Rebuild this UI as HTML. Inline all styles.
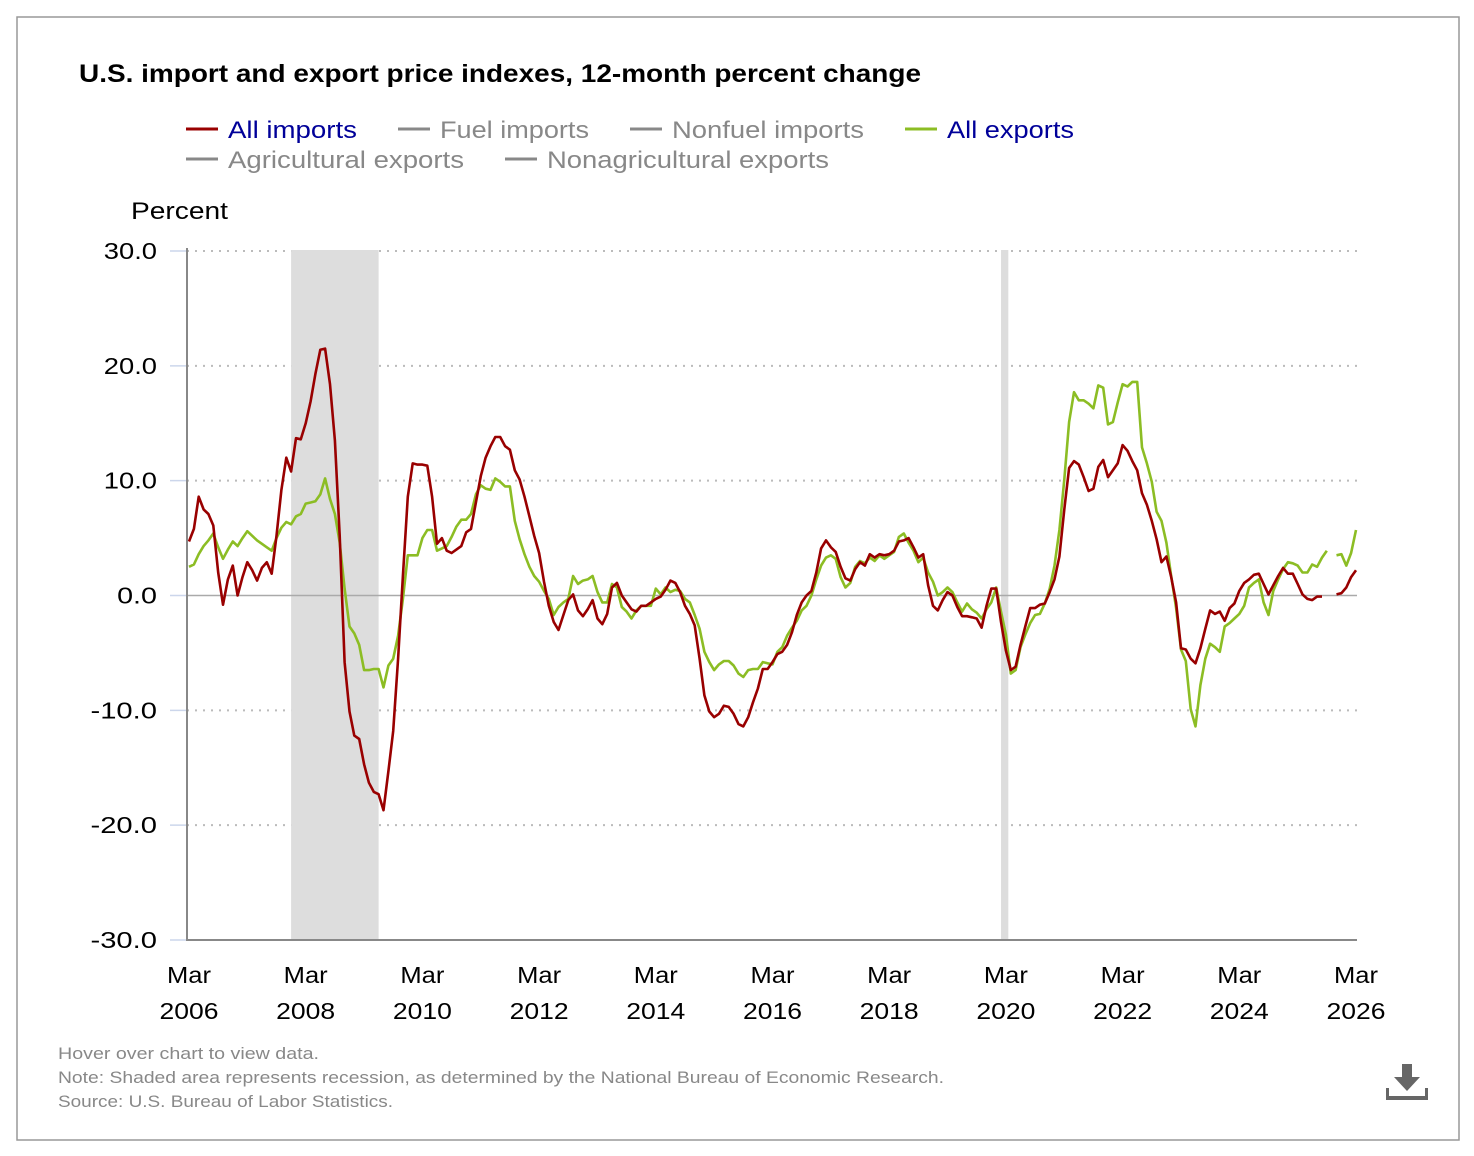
<!DOCTYPE html>
<html><head><meta charset="utf-8"><style>
html,body{margin:0;padding:0;background:#fff;width:1474px;height:1156px;overflow:hidden}
svg{display:block;font-family:"Liberation Sans",sans-serif}
</style></head><body>
<svg id="chart" width="1474" height="1156" viewBox="0 0 1474 1156">
<rect x="17" y="17" width="1442" height="1123" fill="#fff" stroke="#999" stroke-width="1.5"/>
<text x="79" y="82" font-size="25" font-weight="bold" fill="#000" textLength="842" lengthAdjust="spacingAndGlyphs">U.S. import and export price indexes, 12-month percent change</text>
<g font-size="24">
<g><line x1="186" y1="129" x2="218" y2="129" stroke="#990000" stroke-width="3"/><text x="228" y="138" fill="#000099" textLength="129" lengthAdjust="spacingAndGlyphs">All imports</text></g>
<g><line x1="398" y1="129" x2="430" y2="129" stroke="#888" stroke-width="3"/><text x="440" y="138" fill="#888" textLength="149" lengthAdjust="spacingAndGlyphs">Fuel imports</text></g>
<g><line x1="630" y1="129" x2="662" y2="129" stroke="#888" stroke-width="3"/><text x="672" y="138" fill="#888" textLength="192" lengthAdjust="spacingAndGlyphs">Nonfuel imports</text></g>
<g><line x1="905" y1="129" x2="937" y2="129" stroke="#8cbd24" stroke-width="3"/><text x="947" y="138" fill="#000099" textLength="127" lengthAdjust="spacingAndGlyphs">All exports</text></g>
<g><line x1="186" y1="159" x2="218" y2="159" stroke="#888" stroke-width="3"/><text x="228" y="168" fill="#888" textLength="236" lengthAdjust="spacingAndGlyphs">Agricultural exports</text></g>
<g><line x1="505" y1="159" x2="537" y2="159" stroke="#888" stroke-width="3"/><text x="547" y="168" fill="#888" textLength="282" lengthAdjust="spacingAndGlyphs">Nonagricultural exports</text></g>
</g>
<text x="131" y="219" font-size="24" fill="#000" textLength="97" lengthAdjust="spacingAndGlyphs">Percent</text>
<g id="grid"></g>
<g id="recess"></g>
<g id="axes"></g>
<g id="series"></g>
<text x="58" y="1059" font-size="17" fill="#888" textLength="261" lengthAdjust="spacingAndGlyphs">Hover over chart to view data.</text>
<text x="58" y="1083" font-size="17" fill="#888" textLength="886" lengthAdjust="spacingAndGlyphs">Note: Shaded area represents recession, as determined by the National Bureau of Economic Research.</text>
<text x="58" y="1107" font-size="17" fill="#888" textLength="335" lengthAdjust="spacingAndGlyphs">Source: U.S. Bureau of Labor Statistics.</text>
<g fill="#666">
<rect x="1402" y="1064" width="10" height="14"/>
<polygon points="1394,1077 1420,1077 1407,1091"/>
<rect x="1386" y="1096" width="42" height="4"/>
<rect x="1386" y="1088" width="3" height="10"/>
<rect x="1425" y="1088" width="3" height="10"/>
</g>
</svg>
<script>
const yTicks = [30, 20, 10, 0, -10, -20, -30];
const xTickYears = ["2006","2008","2010","2012","2014","2016","2018","2020","2022","2024","2026"];
const xTickMonths = [0,24,48,72,96,120,144,168,192,216,240];
const recessionStarts = [21, 167];
const recessionEnds = [39, 168.5];
const allImports = [4.7,5.8,8.6,7.5,7.1,6.1,2.0,-0.8,1.4,2.6,
0,1.6,2.9,2.2,1.3,2.4,2.9,1.9,5.2,9.2,
12.0,10.8,13.7,13.6,15.0,16.9,19.3,21.4,21.5,18.4,
13.5,5.2,-5.8,-10.1,-12.2,-12.5,-14.7,-16.3,-17.1,-17.3,
-18.7,-15.3,-11.8,-5.5,1.7,8.6,11.5,11.4,11.4,11.3,
8.6,4.5,5.0,3.9,3.7,4.0,4.3,5.5,5.8,8.1,
10.4,12.0,13.0,13.8,13.8,13.0,12.7,10.9,10.1,8.6,
6.9,5.2,3.7,1.2,-0.9,-2.3,-3.0,-1.7,-0.4,0.1,
-1.3,-1.8,-1.2,-0.4,-2.0,-2.5,-1.6,0.7,1.1,0,
-0.6,-1.2,-1.4,-0.9,-0.9,-0.6,-0.3,-0.1,0.5,1.3,
1.1,0.3,-0.9,-1.6,-2.6,-5.5,-8.7,-10.1,-10.6,-10.3,
-9.6,-9.7,-10.3,-11.2,-11.4,-10.6,-9.3,-8.1,-6.4,-6.4,
-5.8,-5.1,-4.9,-4.3,-3.2,-1.7,-0.6,0,0.4,2.0,
4.1,4.8,4.2,3.8,2.5,1.5,1.3,2.3,2.9,2.6,
3.6,3.3,3.6,3.5,3.6,3.9,4.7,4.8,5.0,4.2,
3.3,3.6,0.9,-0.9,-1.3,-0.4,0.3,0,-1.0,-1.8,
-1.8,-1.9,-2.0,-2.8,-0.9,0.6,0.6,-2.3,-4.8,-6.5,
-6.2,-4.3,-2.7,-1.1,-1.1,-0.8,-0.7,0.3,1.4,3.4,
7.5,11.1,11.7,11.4,10.3,9.1,9.3,11.2,11.8,10.3,
10.9,11.5,13.1,12.6,11.7,10.9,8.9,7.9,6.5,4.9,
2.9,3.4,1.6,-0.6,-4.6,-4.7,-5.5,-5.9,-4.6,-2.9,
-1.3,-1.6,-1.4,-2.2,-1.1,-0.7,0.4,1.1,1.4,1.8,
1.9,1.0,0.1,0.9,1.7,2.4,1.9,1.9,1.0,0.1,
-0.3,-0.4,-0.1,-0.1,null,null,0.1,0.2,0.7,1.6,
2.2];
const allExports = [2.5,2.7,3.6,4.3,4.8,5.4,4.2,3.2,4.0,4.7,
4.3,5.0,5.6,5.2,4.8,4.5,4.2,3.9,5.0,5.9,
6.4,6.2,6.9,7.1,8.0,8.1,8.2,8.8,10.2,8.4,
7.1,4.6,0.6,-2.7,-3.3,-4.3,-6.5,-6.5,-6.4,-6.4,
-8.0,-6.1,-5.5,-3.5,-0.3,3.5,3.5,3.5,5.0,5.7,
5.7,3.9,4.1,4.3,5.1,6.0,6.6,6.6,7.1,8.8,
9.6,9.3,9.2,10.2,9.9,9.5,9.5,6.5,4.9,3.6,
2.5,1.7,1.2,0.4,-0.3,-1.7,-1.0,-0.6,-0.3,1.7,
1.0,1.3,1.4,1.7,0.3,-0.6,-0.6,1.0,0.7,-1.0,
-1.4,-2.0,-1.3,-0.9,-0.9,-0.9,0.6,0.1,0.7,0.3,
0.5,0.4,-0.3,-0.6,-1.7,-2.9,-4.9,-5.8,-6.5,-6.0,
-5.7,-5.7,-6.1,-6.8,-7.1,-6.5,-6.4,-6.4,-5.8,-5.9,
-6.0,-4.9,-4.5,-3.5,-2.8,-2.2,-1.3,-0.9,0,1.4,
2.6,3.3,3.5,3.2,1.6,0.7,1.1,2.5,3.0,2.8,
3.3,3.0,3.5,3.2,3.5,3.8,5.1,5.4,4.6,3.9,
2.9,3.3,2.0,1.2,0,0.3,0.7,0.3,-0.6,-1.4,
-0.7,-1.2,-1.5,-2.0,-1.2,-0.6,0.7,-1.4,-3.4,-6.8,
-6.5,-4.5,-3.4,-2.4,-1.7,-1.6,-0.7,0.6,2.6,5.7,
10.1,15.1,17.7,17.0,17.0,16.7,16.3,18.3,18.1,14.9,
15.1,16.8,18.4,18.2,18.6,18.6,12.9,11.5,9.9,7.3,
6.5,4.6,1.7,-1.1,-4.7,-5.7,-9.9,-11.4,-7.8,-5.5,
-4.2,-4.5,-4.9,-2.7,-2.4,-2.0,-1.6,-0.9,0.7,1.1,
1.4,-0.6,-1.7,0.4,1.4,2.3,2.9,2.8,2.6,2.0,
2.0,2.7,2.5,3.3,3.9,null,3.5,3.6,2.6,3.7,
5.7];

const NS = "http://www.w3.org/2000/svg";
const X0 = 189, X1 = 1356, MMAX = 240, YT = 251, YB = 940;
function xs(m){ return X0 + (X1 - X0) * m / MMAX; }
function ys(v){ return YB - (v + 30) / 60 * (YB - YT); }
function mk(tag, attrs, parent){ const e = document.createElementNS(NS, tag); for (const k in attrs) e.setAttribute(k, attrs[k]); parent.appendChild(e); return e; }

const grid = document.getElementById('grid');
yTicks.forEach(v => {
  const y = ys(v);
  if (v !== 0 && v !== -30) {
    const l = mk('line', {x1:187, x2:1357, y1:y, y2:y, stroke:'#bbb', 'stroke-width':2, 'stroke-dasharray':'2 6'}, grid);
    
    
  }
  const t = mk('line', {x1:170, x2:187, y1:y, y2:y, stroke:'#ccd6eb', 'stroke-width':1.5}, grid);
  
  
  const s = v.toFixed(1);
  const lbl = mk('text', {x:157, y:y+8, 'text-anchor':'end', 'font-size':23, fill:'#000', textLength: s.length * 13.3, lengthAdjust:'spacingAndGlyphs'}, grid);
  lbl.textContent = s;
  
  
});

const rec = document.getElementById('recess');
recessionStarts.forEach((s, i) => {
  const r = mk('rect', {x:xs(s), y:YT-1, width:xs(recessionEnds[i])-xs(s), height:YB-YT+1, fill:'#dddddd'}, rec);
  
  
});

const axes = document.getElementById('axes');
const zl = mk('line', {x1:187, x2:1357, y1:ys(0), y2:ys(0), stroke:'#aaa', 'stroke-width':1.5}, axes);


const ya = mk('line', {x1:187, x2:187, y1:248, y2:941, stroke:'#888', 'stroke-width':2}, axes);


const xa = mk('line', {x1:187, x2:1357, y1:940, y2:940, stroke:'#888', 'stroke-width':2}, axes);


xTickMonths.forEach((m, i) => {
  const t1 = mk('text', {x:xs(m), y:983, 'text-anchor':'middle', 'font-size':23, fill:'#000', textLength:44, lengthAdjust:'spacingAndGlyphs'}, axes);
  t1.textContent = 'Mar';
  
  
  const t2 = mk('text', {x:xs(m), y:1019, 'text-anchor':'middle', 'font-size':23, fill:'#000', textLength:59, lengthAdjust:'spacingAndGlyphs'}, axes);
  t2.textContent = xTickYears[i];
  
  
});

const ser = document.getElementById('series');
function pathFor(vals){
  let d = '', pen = false;
  vals.forEach((v, m) => {
    if (v === null) { pen = false; return; }
    d += (pen ? 'L' : 'M') + xs(m).toFixed(1) + ' ' + ys(v).toFixed(1) + ' ';
    pen = true;
  });
  return d;
}
const pe = mk('path', {d:pathFor(allExports), fill:'none', stroke:'#8cbd24', 'stroke-width':2.6, 'stroke-linejoin':'round'}, ser);


const pi = mk('path', {d:pathFor(allImports), fill:'none', stroke:'#990000', 'stroke-width':2.6, 'stroke-linejoin':'round'}, ser);


</script>
</body></html>
